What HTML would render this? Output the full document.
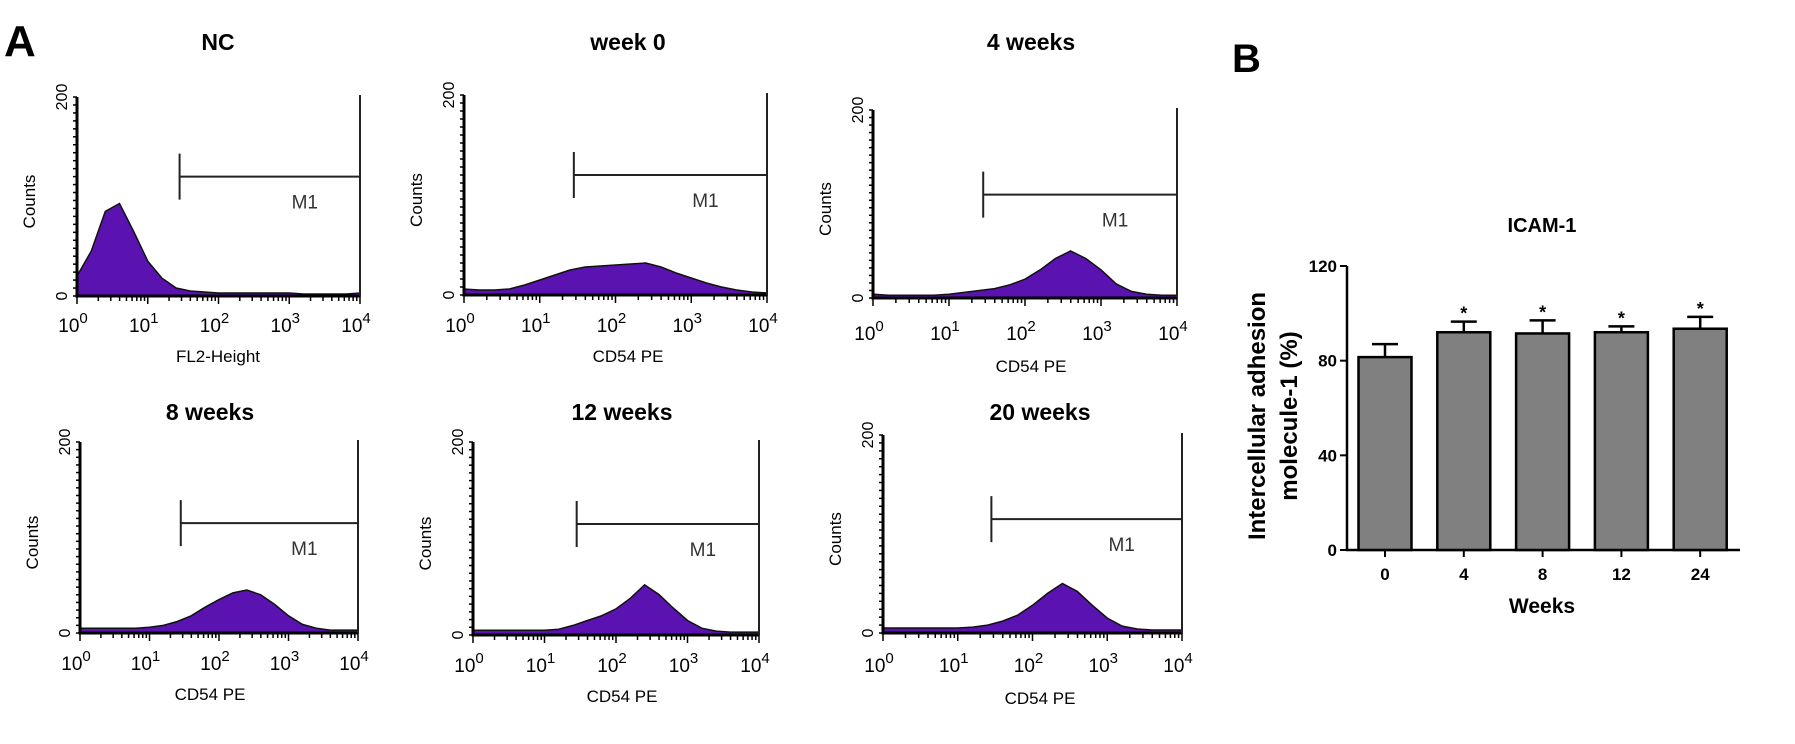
<!DOCTYPE html>
<html><head><meta charset="utf-8">
<style>
body{margin:0;background:#fff;}
svg{display:block;font-family:"Liberation Sans",Arial,sans-serif;}
</style></head>
<body>
<svg id="fig" width="1795" height="744" viewBox="0 0 1795 744" xmlns="http://www.w3.org/2000/svg">
<text x="4" y="56" font-size="44" font-weight="bold">A</text>
<text x="1232" y="72" font-size="40" font-weight="bold">B</text>
<g id="hists"></g>
<g id="bars"></g>
</svg>
<script>
// ---- histogram data (counts sampled every 0.2 log decades from 10^0 to 10^4) ----
const histTitles = ["NC","week 0","4 weeks","8 weeks","12 weeks","20 weeks"];
const histXLabels = ["FL2-Height","CD54 PE","CD54 PE","CD54 PE","CD54 PE","CD54 PE"];
const countsNC = [20,45,85,93,65,35,18,8,5,4,3,3,3,3,3,3,2,2,2,2,3];
const countsW0 = [6,5,5,6,10,15,20,25,28,29,30,31,32,28,22,17,12,8,5,3,2];
const countsW4 = [4,3,3,3,3,4,6,8,10,14,20,30,42,50,42,30,15,7,4,3,3];
const countsW8 = [5,5,5,5,5,6,8,12,18,27,35,42,45,40,30,18,9,5,3,3,3];
const countsW12 = [5,5,5,5,5,5,6,10,15,20,27,38,52,42,28,15,7,4,3,3,3];
const countsW20 = [5,5,5,5,5,5,6,8,12,18,28,40,50,42,28,15,7,4,3,3,3];
const gateStart = [1.45,1.45,1.45,1.45,1.45,1.45]; // log10 position of M1 gate start
const gateLevel = [120,120,110,115,115,115]; // counts level of gate bar
const yTicks = [0,200];
const xDecades = [0,1,2,3,4];

// bar chart data
const barCats = ["0","4","8","12","24"];
const barVals = [81.5,92,91.5,92,93.5];
const barErr = [5.5,4.5,5.5,2.5,5];
const barStars = [false,true,true,true,true];
const barTicks = [0,40,80,120];

const NS="http://www.w3.org/2000/svg";
function mk(tag,attrs,parent){const e=document.createElementNS(NS,tag);for(const k in attrs)e.setAttribute(k,attrs[k]);parent.appendChild(e);return e;}

const layouts=[
 {x0:77,x1:360,y0:296,yTop:97,tx:218,ty:50,lx:218,ly:362,ty2:332},
 {x0:464,x1:767,y0:295,yTop:95,tx:628,ty:50,lx:628,ly:362,ty2:332},
 {x0:873,x1:1177,y0:298,yTop:110,tx:1031,ty:50,lx:1031,ly:372,ty2:340},
 {x0:80,x1:358,y0:633,yTop:442,tx:210,ty:420,lx:210,ly:700,ty2:670},
 {x0:473,x1:759,y0:635,yTop:442,tx:622,ty:420,lx:622,ly:702,ty2:672},
 {x0:883,x1:1182,y0:633,yTop:435,tx:1040,ty:420,lx:1040,ly:704,ty2:672}
];
const allCounts=[countsNC,countsW0,countsW4,countsW8,countsW12,countsW20];
const hg=document.getElementById('hists');
allCounts.forEach((counts,i)=>{
  const L=layouts[i];
  const g=mk('g',{},hg);
  
  
  const xs=v=>L.x0+(L.x1-L.x0)*v/4;
  const ys=c=>L.y0-(L.y0-L.yTop)*c/200;
  const t=mk('text',{x:L.tx,y:L.ty,'font-size':23,'font-weight':'bold','text-anchor':'middle'},g);t.textContent=histTitles[i];
  
  
  // area
  let d='M'+xs(0)+','+ys(0);
  counts.forEach((c,j)=>{d+=' L'+xs(j*0.2).toFixed(1)+','+ys(c).toFixed(1);});
  d+=' L'+xs(4)+','+ys(0)+' Z';
  const p=mk('path',{d:d,fill:'#5a12b0',stroke:'#111','stroke-width':1.5},g);
  
  
  // axes
  const ax=mk('path',{d:`M${L.x0},${L.yTop} L${L.x0},${L.y0} L${L.x1},${L.y0}`,fill:'none',stroke:'#000','stroke-width':3},g);
  
  
  // y minor ticks
  for(let c=0;c<=200;c+=8){mk('line',{x1:L.x0-4,x2:L.x0,y1:ys(c),y2:ys(c),stroke:'#000','stroke-width':1.5},g);}
  // x ticks
  for(let dd=0;dd<4;dd++){for(let k=1;k<10;k++){const v=dd+Math.log10(k);mk('line',{x1:xs(v),x2:xs(v),y1:L.y0,y2:L.y0+(k===1?8:5),stroke:'#000','stroke-width':1.5},g);}}
  mk('line',{x1:xs(4),x2:xs(4),y1:L.y0,y2:L.y0+8,stroke:'#000','stroke-width':1.5},g);
  xDecades.forEach(v=>{const tt=mk('text',{x:xs(v)-4,y:L.ty2,'font-size':19,'text-anchor':'middle'},g);tt.textContent='10';
    const sp=mk('tspan',{dx:0,dy:-9,'font-size':15},tt);sp.textContent=String(v);
    
    });
  yTicks.forEach(c=>{const tt=mk('text',{x:0,y:0,'font-size':16,'text-anchor':'middle',transform:`translate(${L.x0-10},${ys(c)}) rotate(-90)`},g);tt.textContent=String(c);
    
    });
  const yl=mk('text',{x:0,y:0,'font-size':17,'text-anchor':'middle',transform:`translate(${L.x0-42},${(L.y0+L.yTop)/2+5}) rotate(-90)`},g);yl.textContent='Counts';
  
  
  const xl=mk('text',{x:L.lx,y:L.ly,'font-size':17,'text-anchor':'middle'},g);xl.textContent=histXLabels[i];
  
  
  // gate
  const gx=xs(gateStart[i]),gy=ys(gateLevel[i]);
  const gt=mk('path',{d:`M${gx},${gy-23} L${gx},${gy+23} M${gx},${gy} L${L.x1},${gy} M${L.x1},${L.yTop-2} L${L.x1},${L.y0}`,fill:'none',stroke:'#222','stroke-width':2},g);
  
  
  const m=mk('text',{x:(gx+L.x1)/2+35,y:gy+32,'font-size':19,fill:'#333','text-anchor':'middle'},g);m.textContent='M1';
  
  
});

// ---- bar chart ----
const bg=document.getElementById('bars');
const BX0=1347,BX1=1740,BY0=550,BYT=266;
const by=v=>BY0-(BY0-BYT)*v/120;
const bx=i=>1385+i*78.8;
const bw=53;
mk('path',{d:`M${BX0},${BYT} L${BX0},${BY0} L${BX1},${BY0}`,fill:'none',stroke:'#000','stroke-width':2.5},bg);
barTicks.forEach(v=>{mk('line',{x1:BX0-7,x2:BX0,y1:by(v),y2:by(v),stroke:'#000','stroke-width':2},bg);
  const t=mk('text',{x:BX0-10,y:by(v)+6,'font-size':17,'font-weight':'bold','text-anchor':'end'},bg);t.textContent=String(v);
  
  });
barVals.forEach((v,i)=>{
  const cx=bx(i);
  const r=mk('rect',{x:cx-bw/2,y:by(v),width:bw,height:BY0-by(v),fill:'#808080',stroke:'#000','stroke-width':2.5},bg);
  
  
  const e=mk('path',{d:`M${cx},${by(v)} L${cx},${by(v+barErr[i])} M${cx-13},${by(v+barErr[i])} L${cx+13},${by(v+barErr[i])}`,stroke:'#000','stroke-width':2.5,fill:'none'},bg);
  
  
  mk('line',{x1:cx,x2:cx,y1:BY0,y2:BY0+7,stroke:'#000','stroke-width':2},bg);
  const t=mk('text',{x:cx,y:BY0+30,'font-size':17,'font-weight':'bold','text-anchor':'middle'},bg);t.textContent=barCats[i];
  
  
  if(barStars[i]){const s=mk('text',{x:cx,y:by(v+barErr[i])-2,'font-size':18,'font-weight':'bold','text-anchor':'middle'},bg);s.textContent='*';
    
    }
});
const bt=mk('text',{x:1542,y:232,'font-size':20,'font-weight':'bold','text-anchor':'middle'},bg);bt.textContent='ICAM-1';


const wx=mk('text',{x:1542,y:613,'font-size':21,'font-weight':'bold','text-anchor':'middle'},bg);wx.textContent='Weeks';


const yt=mk('text',{x:0,y:0,'font-size':24,'font-weight':'bold','text-anchor':'middle',transform:'translate(0,0)'},bg);
yt.setAttribute('transform','translate(1265,416) rotate(-90)');


const s1=mk('tspan',{x:0,dy:0},yt);s1.textContent='Intercellular adhesion';
const s2=mk('tspan',{x:0,dy:32},yt);s2.textContent='molecule-1 (%)';
</script>
</body></html>
